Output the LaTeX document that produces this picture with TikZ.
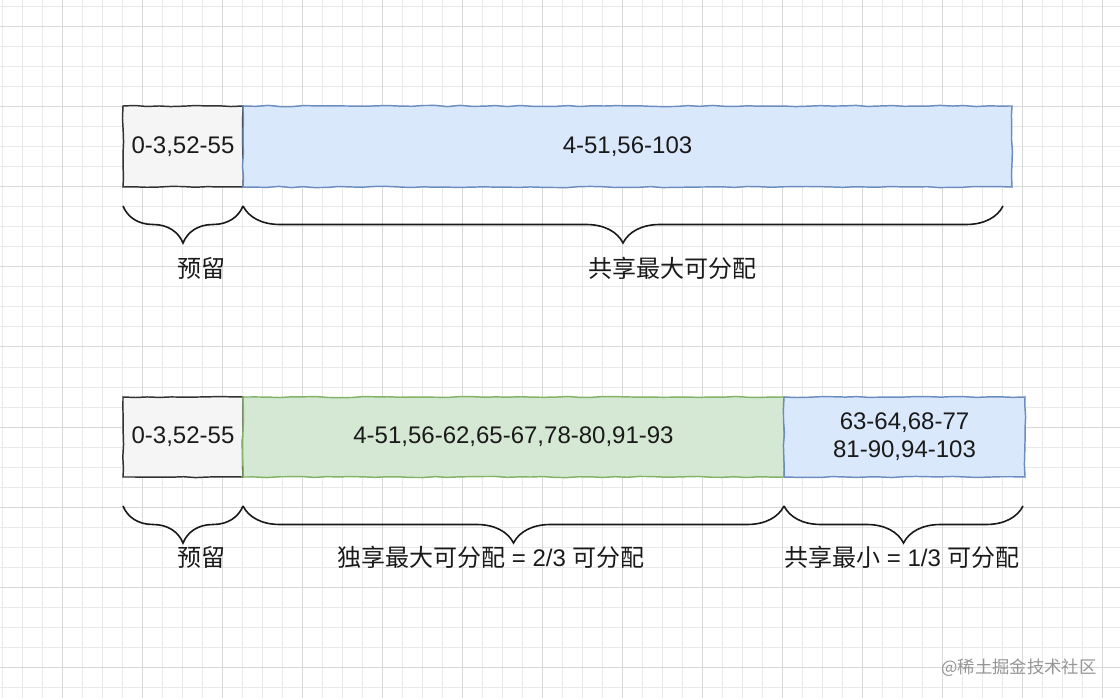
\documentclass[tikz,border=0pt]{standalone}
\usepackage{fontspec}
\setmainfont{Liberation Sans}
\newfontfamily\cjk{Noto Sans CJK SC}
\usepackage{tikz}
\usetikzlibrary{calc,positioning,decorations.pathreplacing,decorations.pathmorphing}
\definecolor{xGridMinor}{RGB}{233,233,233}
\definecolor{xGridMajor}{RGB}{216,216,216}
\definecolor{xGrayBox}{RGB}{245,245,245}
\definecolor{xGrayLine}{RGB}{50,50,50}
\definecolor{xBlueBox}{RGB}{218,232,252}
\definecolor{xBlueLine}{RGB}{108,142,191}
\definecolor{xGreenBox}{RGB}{213,232,212}
\definecolor{xGreenLine}{RGB}{130,179,102}
\definecolor{xText}{RGB}{26,26,26}
\definecolor{xMark}{RGB}{150,150,150}

\tikzset{
  cellbox/.style={draw, line width=1.1pt, inner sep=0pt, outer sep=0pt, align=center,
    text=xText, font=\fontsize{18}{21}\selectfont,
    decorate, decoration={random steps, segment length=9pt, amplitude=0.45pt}},
  resbox/.style={cellbox, fill=xGrayBox, draw=xGrayLine},
  sharebox/.style={cellbox, fill=xBlueBox, draw=xBlueLine},
  ownbox/.style={cellbox, fill=xGreenBox, draw=xGreenLine},
  span/.style={decorate, decoration={brace, mirror, amplitude=27.75pt}, line width=1.2pt, xText},
  spanlabel/.style={text=xText, font=\cjk\fontsize{18}{21}\selectfont}
}

\begin{document}
\begin{tikzpicture}[x=0.75pt, y=-0.75pt]
    \useasboundingbox (0,0) rectangle (1120,698);
    \fill[white] (0,0) rectangle (1120,698);
    \pgfmathsetseed{7}

    % paper grid
    \foreach \x in {2,22,...,1102} {
      \draw[xGridMinor, line width=0.75pt] (\x,0) -- (\x,698);
    }
    \foreach \y in {7,27,...,687} {
      \draw[xGridMinor, line width=0.75pt] (0,\y) -- (1120,\y);
    }
    \foreach \x in {62,142,...,1102} {
      \draw[xGridMajor, line width=0.75pt] (\x,0) -- (\x,698);
    }
    \foreach \y in {27,107,...,667} {
      \draw[xGridMajor, line width=0.75pt] (0,\y) -- (1120,\y);
    }

    % upper row
    \node[resbox, anchor=north west, minimum width=90pt, minimum height=60.75pt] (resTop) at (123,106) {0-3,52-55};
    \node[sharebox, anchor=west, minimum width=576.75pt, minimum height=60.75pt] (shareTop) at (resTop.east) {4-51,56-103};

    \draw[span] ($(resTop.south west)+(0,19)$) -- ($(resTop.south east)+(0,19)$);
    \draw[span] ($(resTop.south east)+(0,19)$) -- ($(shareTop.south east)+(-9,19)$);
    \node[spanlabel] (resTopLabel) at (201,268) {预留};
    \node[spanlabel] (shareTopLabel) at (672,268) {共享最大可分配};

    % lower row
    \node[resbox, anchor=north west, minimum width=90pt, minimum height=60pt] (resBot) at (123,397) {0-3,52-55};
    \node[ownbox, anchor=west, minimum width=405.75pt, minimum height=60pt] (ownBot) at (resBot.east) {4-51,56-62,65-67,78-80,91-93};
    \node[sharebox, anchor=west, minimum width=180.75pt, minimum height=60pt] (shareBot) at (ownBot.east) {63-64,68-77\\81-90,94-103};

    \draw[span] ($(resBot.south west)+(0,29)$) -- ($(resBot.south east)+(0,29)$);
    \draw[span] ($(resBot.south east)+(0,29)$) -- ($(ownBot.south east)+(0,29)$);
    \draw[span] ($(ownBot.south east)+(0,29)$) -- ($(shareBot.south east)+(-2,29)$);
    \node[spanlabel] (resBotLabel) at (201,557) {预留};
    \node[spanlabel] (ownBotLabel) at (491,557) {独享最大可分配{\rmfamily\ = 2/3 }可分配};
    \node[spanlabel] (shareBotLabel) at (902,557) {共享最小{\rmfamily\ = 1/3 }可分配};

    \node[text=xMark, font=\cjk\fontsize{13}{15}\selectfont] (mark) at (1019,668) {@稀土掘金技术社区};
\end{tikzpicture}
\end{document}
